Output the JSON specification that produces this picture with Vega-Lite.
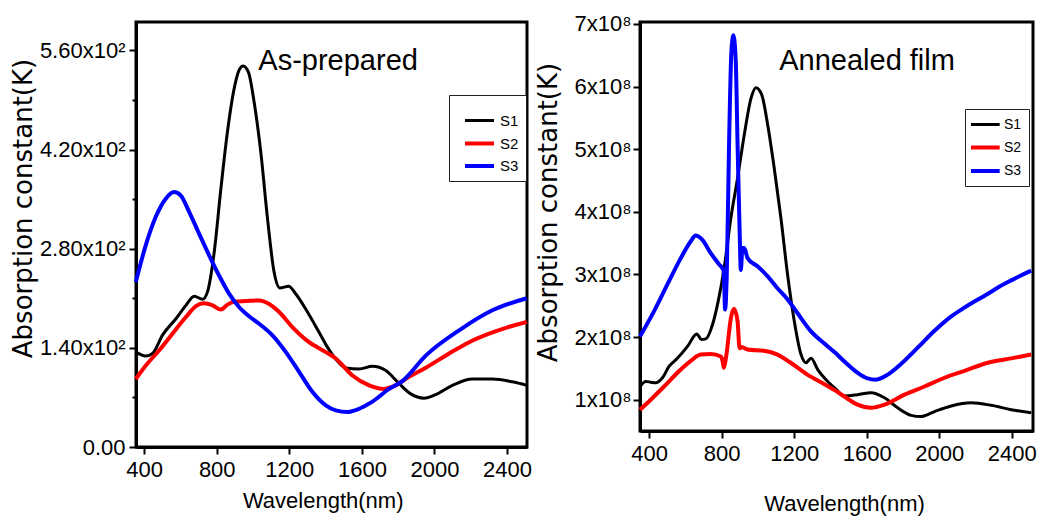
{
  "$schema": "https://vega.github.io/schema/vega-lite/v6.json",
  "background": "white",
  "padding": {"left": 8, "top": 11, "right": 4, "bottom": 4},
  "config": {
    "view": {"stroke": "black", "strokeWidth": 3},
    "axis": {"domainColor": "black", "domainWidth": 3, "tickColor": "black", "tickWidth": 2, "labelFont": "Liberation Sans", "labelFontSize": 22, "labelColor": "black", "titleColor": "black", "grid": false, "labelFlush": false, "labelOverlap": false}
  },
  "datasets": {
    "asprep": [
      {"series":"S1","wl":354,"k":134},{"series":"S1","wl":409,"k":128.5},{"series":"S1","wl":446,"k":132},{"series":"S1","wl":501,"k":158},{"series":"S1","wl":575,"k":181},{"series":"S1","wl":630,"k":200},{"series":"S1","wl":676,"k":213},{"series":"S1","wl":722,"k":208.5},{"series":"S1","wl":749,"k":219},{"series":"S1","wl":786,"k":275},{"series":"S1","wl":823,"k":365},{"series":"S1","wl":859,"k":445},{"series":"S1","wl":896,"k":506},{"series":"S1","wl":923,"k":532},{"series":"S1","wl":945,"k":538},{"series":"S1","wl":975,"k":529},{"series":"S1","wl":1006,"k":487},{"series":"S1","wl":1043,"k":416},{"series":"S1","wl":1080,"k":322},{"series":"S1","wl":1116,"k":247},{"series":"S1","wl":1148,"k":224.5},{"series":"S1","wl":1196,"k":227},{"series":"S1","wl":1236,"k":216},{"series":"S1","wl":1300,"k":190.6},{"series":"S1","wl":1364,"k":162},{"series":"S1","wl":1410,"k":141},{"series":"S1","wl":1456,"k":124},{"series":"S1","wl":1511,"k":111.5},{"series":"S1","wl":1585,"k":110},{"series":"S1","wl":1658,"k":114},{"series":"S1","wl":1732,"k":108},{"series":"S1","wl":1796,"k":92},{"series":"S1","wl":1869,"k":75},{"series":"S1","wl":1943,"k":69},{"series":"S1","wl":2007,"k":74},{"series":"S1","wl":2099,"k":87},{"series":"S1","wl":2209,"k":96},{"series":"S1","wl":2319,"k":96},{"series":"S1","wl":2429,"k":92},{"series":"S1","wl":2509,"k":87},
      {"series":"S2","wl":354,"k":96},{"series":"S2","wl":409,"k":115},{"series":"S2","wl":483,"k":136.5},{"series":"S2","wl":556,"k":160},{"series":"S2","wl":630,"k":183.5},{"series":"S2","wl":685,"k":199},{"series":"S2","wl":731,"k":203},{"series":"S2","wl":777,"k":200},{"series":"S2","wl":823,"k":194},{"series":"S2","wl":859,"k":201},{"series":"S2","wl":896,"k":205},{"series":"S2","wl":960,"k":206},{"series":"S2","wl":1034,"k":207},{"series":"S2","wl":1089,"k":202},{"series":"S2","wl":1144,"k":190.6},{"series":"S2","wl":1218,"k":169},{"series":"S2","wl":1309,"k":148},{"series":"S2","wl":1401,"k":134},{"series":"S2","wl":1456,"k":125},{"series":"S2","wl":1548,"k":101},{"series":"S2","wl":1640,"k":87},{"series":"S2","wl":1722,"k":82},{"series":"S2","wl":1768,"k":85},{"series":"S2","wl":1860,"k":99},{"series":"S2","wl":1952,"k":112},{"series":"S2","wl":2081,"k":132},{"series":"S2","wl":2191,"k":148},{"series":"S2","wl":2301,"k":160},{"series":"S2","wl":2402,"k":169},{"series":"S2","wl":2509,"k":176.5},
      {"series":"S3","wl":354,"k":233},{"series":"S3","wl":409,"k":285},{"series":"S3","wl":464,"k":325},{"series":"S3","wl":519,"k":350.6},{"series":"S3","wl":565,"k":360},{"series":"S3","wl":602,"k":355},{"series":"S3","wl":648,"k":332},{"series":"S3","wl":703,"k":301},{"series":"S3","wl":758,"k":270.6},{"series":"S3","wl":813,"k":242},{"series":"S3","wl":868,"k":216.5},{"series":"S3","wl":923,"k":197.6},{"series":"S3","wl":978,"k":184.5},{"series":"S3","wl":1034,"k":174},{"series":"S3","wl":1107,"k":157.7},{"series":"S3","wl":1181,"k":134},{"series":"S3","wl":1254,"k":106},{"series":"S3","wl":1328,"k":77.6},{"series":"S3","wl":1401,"k":58.8},{"series":"S3","wl":1456,"k":51.8},{"series":"S3","wl":1520,"k":49.4},{"series":"S3","wl":1585,"k":54},{"series":"S3","wl":1658,"k":64},{"series":"S3","wl":1750,"k":82},{"series":"S3","wl":1823,"k":93},{"series":"S3","wl":1952,"k":129},{"series":"S3","wl":2136,"k":164.7},{"series":"S3","wl":2319,"k":193},{"series":"S3","wl":2509,"k":210}
    ],
    "annealed": [
      {"series":"S1","wl":350,"k":1.21e8},{"series":"S1","wl":382,"k":1.29e8},{"series":"S1","wl":409,"k":1.28e8},{"series":"S1","wl":436,"k":1.27e8},{"series":"S1","wl":474,"k":1.35e8},{"series":"S1","wl":510,"k":1.53e8},{"series":"S1","wl":556,"k":1.66e8},{"series":"S1","wl":612,"k":1.85e8},{"series":"S1","wl":663,"k":2.05e8},{"series":"S1","wl":689,"k":1.96e8},{"series":"S1","wl":713,"k":1.97e8},{"series":"S1","wl":750,"k":2.2e8},{"series":"S1","wl":781,"k":2.57e8},{"series":"S1","wl":814,"k":3.1e8},{"series":"S1","wl":851,"k":3.9e8},{"series":"S1","wl":888,"k":4.54e8},{"series":"S1","wl":925,"k":5.23e8},{"series":"S1","wl":962,"k":5.81e8},{"series":"S1","wl":989,"k":5.98e8},{"series":"S1","wl":1021,"k":5.87e8},{"series":"S1","wl":1054,"k":5.39e8},{"series":"S1","wl":1090,"k":4.7e8},{"series":"S1","wl":1127,"k":3.9e8},{"series":"S1","wl":1164,"k":2.99e8},{"series":"S1","wl":1201,"k":2.25e8},{"series":"S1","wl":1238,"k":1.72e8},{"series":"S1","wl":1265,"k":1.59e8},{"series":"S1","wl":1293,"k":1.66e8},{"series":"S1","wl":1330,"k":1.48e8},{"series":"S1","wl":1385,"k":1.29e8},{"series":"S1","wl":1430,"k":1.17e8},{"series":"S1","wl":1477,"k":1.06e8},{"series":"S1","wl":1550,"k":1.08e8},{"series":"S1","wl":1624,"k":1.11e8},{"series":"S1","wl":1698,"k":1.03e8},{"series":"S1","wl":1771,"k":0.87e8},{"series":"S1","wl":1845,"k":0.75e8},{"series":"S1","wl":1900,"k":0.73e8},{"series":"S1","wl":1974,"k":0.81e8},{"series":"S1","wl":2066,"k":0.9e8},{"series":"S1","wl":2176,"k":0.95e8},{"series":"S1","wl":2287,"k":0.91e8},{"series":"S1","wl":2397,"k":0.84e8},{"series":"S1","wl":2507,"k":0.79e8},
      {"series":"S2","wl":350,"k":0.84e8},{"series":"S2","wl":409,"k":1.0e8},{"series":"S2","wl":483,"k":1.21e8},{"series":"S2","wl":556,"k":1.43e8},{"series":"S2","wl":630,"k":1.62e8},{"series":"S2","wl":685,"k":1.72e8},{"series":"S2","wl":740,"k":1.73e8},{"series":"S2","wl":796,"k":1.69e8},{"series":"S2","wl":805,"k":1.62e8},{"series":"S2","wl":812,"k":1.51e8},{"series":"S2","wl":820,"k":1.6e8},{"series":"S2","wl":828,"k":1.75e8},{"series":"S2","wl":851,"k":2.3e8},{"series":"S2","wl":869,"k":2.45e8},{"series":"S2","wl":888,"k":2.25e8},{"series":"S2","wl":899,"k":1.82e8},{"series":"S2","wl":910,"k":1.84e8},{"series":"S2","wl":943,"k":1.8e8},{"series":"S2","wl":1034,"k":1.78e8},{"series":"S2","wl":1108,"k":1.72e8},{"series":"S2","wl":1181,"k":1.59e8},{"series":"S2","wl":1273,"k":1.4e8},{"series":"S2","wl":1365,"k":1.25e8},{"series":"S2","wl":1430,"k":1.14e8},{"series":"S2","wl":1477,"k":1.05e8},{"series":"S2","wl":1550,"k":0.92e8},{"series":"S2","wl":1624,"k":0.87e8},{"series":"S2","wl":1698,"k":0.92e8},{"series":"S2","wl":1808,"k":1.08e8},{"series":"S2","wl":1918,"k":1.21e8},{"series":"S2","wl":2029,"k":1.35e8},{"series":"S2","wl":2139,"k":1.46e8},{"series":"S2","wl":2268,"k":1.59e8},{"series":"S2","wl":2397,"k":1.66e8},{"series":"S2","wl":2507,"k":1.72e8},
      {"series":"S3","wl":350,"k":2.01e8},{"series":"S3","wl":427,"k":2.41e8},{"series":"S3","wl":501,"k":2.84e8},{"series":"S3","wl":575,"k":3.26e8},{"series":"S3","wl":630,"k":3.53e8},{"series":"S3","wl":657,"k":3.62e8},{"series":"S3","wl":694,"k":3.55e8},{"series":"S3","wl":740,"k":3.34e8},{"series":"S3","wl":786,"k":3.16e8},{"series":"S3","wl":810,"k":3.07e8},{"series":"S3","wl":815,"k":2.8e8},{"series":"S3","wl":819,"k":2.44e8},{"series":"S3","wl":824,"k":2.6e8},{"series":"S3","wl":828,"k":2.94e8},{"series":"S3","wl":841,"k":5.07e8},{"series":"S3","wl":854,"k":6.56e8},{"series":"S3","wl":865,"k":6.82e8},{"series":"S3","wl":878,"k":6.4e8},{"series":"S3","wl":888,"k":5.07e8},{"series":"S3","wl":899,"k":3.74e8},{"series":"S3","wl":906,"k":3.07e8},{"series":"S3","wl":915,"k":3.42e8},{"series":"S3","wl":925,"k":3.42e8},{"series":"S3","wl":943,"k":3.26e8},{"series":"S3","wl":998,"k":3.13e8},{"series":"S3","wl":1054,"k":2.97e8},{"series":"S3","wl":1108,"k":2.78e8},{"series":"S3","wl":1164,"k":2.6e8},{"series":"S3","wl":1219,"k":2.38e8},{"series":"S3","wl":1293,"k":2.09e8},{"series":"S3","wl":1365,"k":1.9e8},{"series":"S3","wl":1430,"k":1.74e8},{"series":"S3","wl":1477,"k":1.61e8},{"series":"S3","wl":1550,"k":1.43e8},{"series":"S3","wl":1605,"k":1.34e8},{"series":"S3","wl":1651,"k":1.32e8},{"series":"S3","wl":1716,"k":1.4e8},{"series":"S3","wl":1789,"k":1.57e8},{"series":"S3","wl":1881,"k":1.83e8},{"series":"S3","wl":1974,"k":2.1e8},{"series":"S3","wl":2066,"k":2.33e8},{"series":"S3","wl":2139,"k":2.47e8},{"series":"S3","wl":2250,"k":2.66e8},{"series":"S3","wl":2360,"k":2.85e8},{"series":"S3","wl":2507,"k":3.06e8}
    ]
  },
  "spacing": 113,
  "bounds": "flush",
  "resolve": {"scale": {"color": "independent", "strokeWidth": "independent", "x": "independent", "y": "independent"}, "legend": {"color": "independent"}},
  "hconcat": [
    {
      "width": 391, "height": 425,
      "layer": [
        {
          "data": {"name": "asprep"},
          "mark": {"type": "line", "interpolate": "monotone"},
          "encoding": {
            "x": {"field": "wl", "type": "quantitative", "scale": {"domain": [355, 2510], "nice": false, "zero": false},
              "axis": {"values": [400,600,800,1000,1200,1400,1600,1800,2000,2200,2400], "labelExpr": "datum.value % 400 === 0 ? format(datum.value, 'd') : ''", "tickSize": {"condition": {"test": "datum.value % 400 === 0", "value": 7}, "value": 4}, "labelPadding": 5, "title": "Wavelength(nm)", "titleFont": "Liberation Sans", "titleFontSize": 22, "titleFontWeight": "normal", "titleX": 186.7, "titleY": 53, "titleBaseline": "middle", "titleAlign": "center"}},
            "y": {"field": "k", "type": "quantitative", "scale": {"domain": [0, 600], "nice": false},
              "axis": {"values": [0,70,140,210,280,350,420,490,560], "labelExpr": "datum.value === 0 ? '0.00' : (datum.value % 140 === 0 ? format(datum.value / 100, '.2f') + 'x10²' : '')", "tickSize": {"condition": {"test": "datum.value % 140 === 0", "value": 7}, "value": 4}, "labelPadding": 4, "title": "Absorption constant(K)", "titleFont": "DejaVu Sans", "titleFontSize": 26, "titleFontWeight": "normal", "titleX": -112.5, "titleY": 186, "titleAngle": -90, "titleBaseline": "middle", "titleAlign": "center"}},
            "color": {"field": "series", "type": "nominal", "scale": {"domain": ["S1","S2","S3"], "range": ["#000000","#ff0000","#0000ff"]},
              "legend": {"orient": "none", "legendX": 313, "legendY": 73, "title": " ", "titleFontSize": 5, "titlePadding": 5, "strokeColor": "#222222", "fillColor": "white", "padding": 7, "symbolType": "M0,0H4.14", "symbolSize": 196, "symbolStrokeWidth": 4, "labelFont": "Liberation Sans", "labelFontSize": 15, "labelColor": "black", "labelOffset": 26, "rowPadding": 5.5}},
            "strokeWidth": {"field": "series", "type": "nominal", "scale": {"type": "ordinal", "domain": ["S1","S2","S3"], "range": [3, 4, 4]}, "legend": null}
          }
        },
        {
          "data": {"values": [{}]},
          "mark": {"type": "text", "font": "Liberation Sans", "fontSize": 29, "align": "center", "baseline": "alphabetic", "color": "black"},
          "encoding": {"x": {"datum": 1469}, "y": {"datum": 532}, "text": {"value": "As-prepared"}}
        }
      ]
    },
    {
      "width": 393, "height": 409,
      "layer": [
        {
          "data": {"name": "annealed"},
          "mark": {"type": "line", "interpolate": "monotone"},
          "encoding": {
            "x": {"field": "wl", "type": "quantitative", "scale": {"domain": [350, 2517], "nice": false, "zero": false},
              "axis": {"values": [400,600,800,1000,1200,1400,1600,1800,2000,2200,2400], "labelExpr": "datum.value % 400 === 0 ? format(datum.value, 'd') : ''", "tickSize": {"condition": {"test": "datum.value % 400 === 0", "value": 7}, "value": 4}, "labelPadding": 5, "title": "Wavelength(nm)", "titleFont": "Liberation Sans", "titleFontSize": 22, "titleFontWeight": "normal", "titleX": 204, "titleY": 72, "titleBaseline": "middle", "titleAlign": "center"}},
            "y": {"field": "k", "type": "quantitative", "scale": {"domain": [0.5e8, 7.03e8], "nice": false, "zero": false},
              "axis": {"values": [1e8,1.5e8,2e8,2.5e8,3e8,3.5e8,4e8,4.5e8,5e8,5.5e8,6e8,6.5e8,7e8], "labelExpr": "datum.value % 1e8 === 0 ? format(datum.value / 1e8, 'd') + 'x10⁸' : ''", "tickSize": {"condition": {"test": "datum.value % 1e8 === 0", "value": 7}, "value": 4}, "labelPadding": 2, "title": "Absorption constant(K)", "titleFont": "DejaVu Sans", "titleFontSize": 26, "titleFontWeight": "normal", "titleX": -91.5, "titleY": 190, "titleAngle": -90, "titleBaseline": "middle", "titleAlign": "center"}},
            "color": {"field": "series", "type": "nominal", "scale": {"domain": ["S1","S2","S3"], "range": ["#000000","#ff0000","#0000ff"]},
              "legend": {"orient": "none", "legendX": 325, "legendY": 87, "title": null, "strokeColor": "#222222", "fillColor": "white", "padding": 7, "symbolType": "M-1.43,0H2.67", "symbolSize": 196, "symbolStrokeWidth": 4, "labelFont": "Liberation Sans", "labelFontSize": 14, "labelColor": "black", "labelOffset": 14, "rowPadding": 6.5}},
            "strokeWidth": {"field": "series", "type": "nominal", "scale": {"type": "ordinal", "domain": ["S1","S2","S3"], "range": [3, 4, 4]}, "legend": null}
          }
        },
        {
          "data": {"values": [{}]},
          "mark": {"type": "text", "font": "Liberation Sans", "fontSize": 29, "align": "center", "baseline": "alphabetic", "color": "black"},
          "encoding": {"x": {"datum": 1602}, "y": {"datum": 6.26e8}, "text": {"value": "Annealed film"}}
        }
      ]
    }
  ]
}
